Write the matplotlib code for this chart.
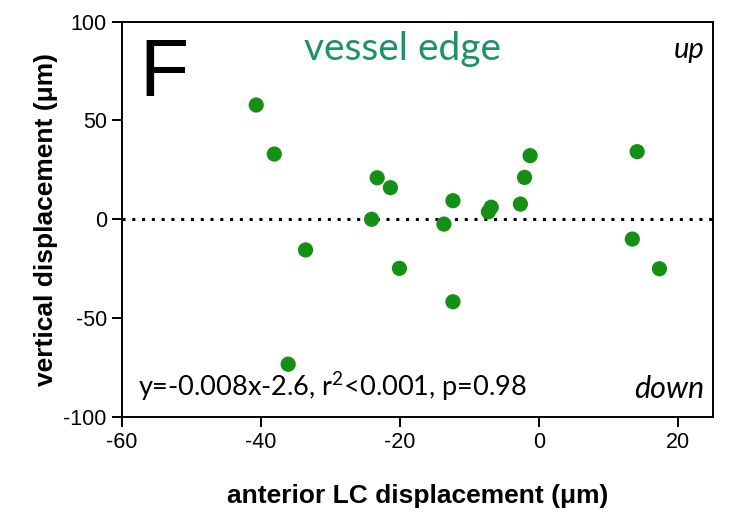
import numpy as np
import matplotlib.pyplot as plt

# anterior LC displacement vs vertical displacement at the vessel edge
lc_disp = [-40.7, -38.1, -23.3, -21.4, -24.1, -33.6, -20.1, -1.3, -2.1, -2.7,
           -12.4, -13.7, -6.9, -7.3, -12.4, 14.1, 13.4, 17.3, -36.1]
vert_disp = [57.8, 33.0, 21.0, 16.0, 0.0, -15.5, -24.8, 32.2, 21.2, 7.7,
             9.4, -2.4, 6.1, 3.8, -41.7, 34.2, -10.0, -25.0, -73.3]

x_ticks = [-60, -40, -20, 0, 20]
y_ticks = [-100, -50, 0, 50, 100]
fit_text = 'y=-0.008x-2.6, r$^2$<0.001, p=0.98'

plt.rcParams['font.family'] = ['Liberation Sans', 'DejaVu Sans']
plt.rcParams['axes.unicode_minus'] = False
plt.rcParams['mathtext.fontset'] = 'custom'
plt.rcParams['mathtext.rm'] = 'Lato'

fig = plt.figure(figsize=(7.29, 5.19), dpi=100)
ax = fig.add_axes([0.1674, 0.1965, 0.8106, 0.7619])

ax.axhline(0, color='black', linestyle=(0, (1, 2.2)), linewidth=2.2, zorder=1)
ax.scatter(lc_disp, vert_disp, s=120, color='#149014', edgecolors='none', zorder=3)

ax.set_xlim(-60, 25)
ax.set_ylim(-100, 100)
ax.set_xticks(x_ticks)
ax.set_yticks(y_ticks)
ax.tick_params(direction='out', length=7, width=1.4, labelsize=15.5, pad=4)
for sp in ax.spines.values():
    sp.set_linewidth(1.4)

ax.set_xlabel('anterior LC displacement (μm)', fontsize=19, fontweight='bold', labelpad=22)
ax.set_ylabel('vertical displacement (μm)', fontsize=19, fontweight='bold', labelpad=4)

lato = ['Lato', 'DejaVu Sans']
ax.text(0.03, 0.96, 'F', transform=ax.transAxes, fontsize=58, va='top', ha='left')
ax.text(0.475, 0.975, 'vessel edge', transform=ax.transAxes, fontsize=28,
        color='#1a9466', family=lato, ha='center', va='top')
ax.text(0.985, 0.96, 'up', transform=ax.transAxes, fontsize=21, style='italic',
        family=lato, ha='right', va='top')
ax.text(0.985, 0.035, 'down', transform=ax.transAxes, fontsize=22, style='italic',
        family=lato, ha='right', va='bottom')
ax.text(0.027, 0.035, fit_text, transform=ax.transAxes, fontsize=19.5,
        family=lato, ha='left', va='bottom')

fig.savefig('out.png', dpi=100)
